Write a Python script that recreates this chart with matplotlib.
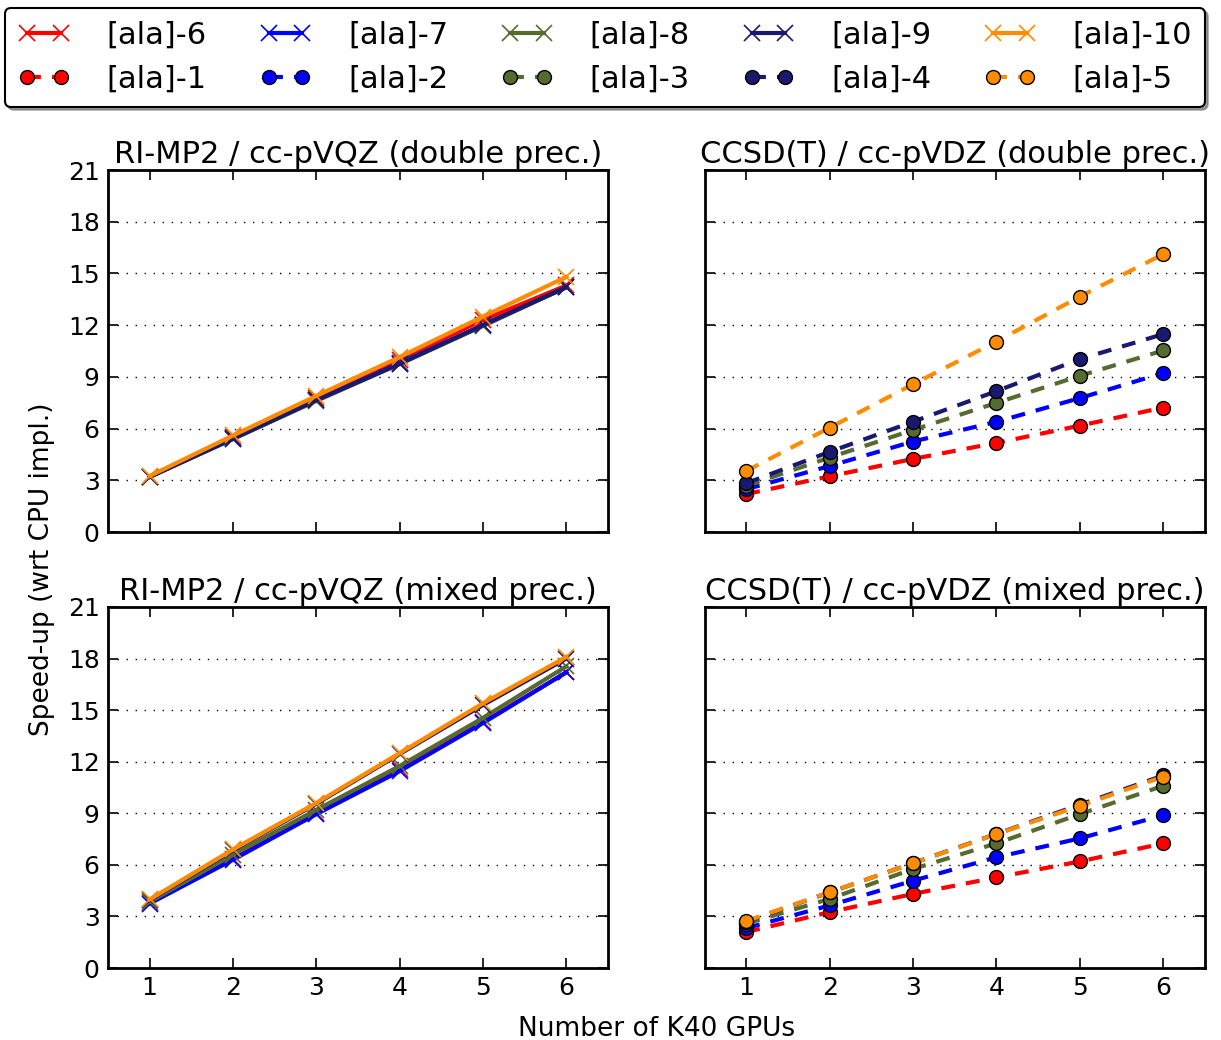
import matplotlib
matplotlib.use('Agg')
import matplotlib.pyplot as plt
import numpy as np

# numero de GPUs
gpus = [1, 2, 3, 4, 5, 6]

# RI-MP2 / cc-pVQZ (dupla precisao) -> [ala]-6 ... [ala]-10
mp2_dp_6 = [3.2, 5.5, 7.8, 10.0, 12.3, 14.3]
mp2_dp_7 = [3.2, 5.45, 7.65, 9.8, 12.0, 14.2]
mp2_dp_8 = [3.2, 5.4, 7.6, 9.75, 11.95, 14.2]
mp2_dp_9 = [3.2, 5.4, 7.65, 9.75, 12.0, 14.2]
mp2_dp_10 = [3.25, 5.6, 7.9, 10.15, 12.5, 14.8]

# RI-MP2 / cc-pVQZ (precisao mista)
mp2_mp_6 = [3.8, 6.35, 9.0, 11.6, 14.3, 17.2]
mp2_mp_7 = [3.75, 6.3, 8.95, 11.45, 14.25, 17.2]
mp2_mp_8 = [3.85, 6.6, 9.2, 11.75, 14.55, 17.55]
mp2_mp_9 = [3.95, 6.85, 9.55, 12.45, 15.3, 18.0]
mp2_mp_10 = [3.99, 6.9, 9.6, 12.5, 15.4, 18.1]

# CCSD(T) / cc-pVDZ (dupla precisao) -> [ala]-1 ... [ala]-5
cc_dp_1 = [2.2, 3.23, 4.24, 5.17, 6.17, 7.22]
cc_dp_2 = [2.48, 3.83, 5.25, 6.39, 7.77, 9.22]
cc_dp_3 = [2.67, 4.32, 5.92, 7.49, 9.06, 10.53]
cc_dp_4 = [2.83, 4.65, 6.4, 8.17, 10.03, 11.48]
cc_dp_5 = [3.54, 6.05, 8.57, 11.05, 13.66, 16.12]

# CCSD(T) / cc-pVDZ (precisao mista)
cc_mp_1 = [2.09, 3.25, 4.31, 5.27, 6.2, 7.25]
cc_mp_2 = [2.32, 3.64, 5.08, 6.44, 7.54, 8.89]
cc_mp_3 = [2.58, 4.02, 5.76, 7.25, 8.95, 10.6]
cc_mp_4 = [2.7, 4.4, 6.1, 7.8, 9.5, 11.2]
cc_mp_5 = [2.73, 4.41, 6.09, 7.79, 9.43, 11.13]

cores = ['#ff0000', '#0000ff', '#556b2f', '#191970', '#ff8c00']

plt.rcParams['font.family'] = 'DejaVu Sans'
plt.rcParams['lines.scale_dashes'] = False
plt.rcParams['xtick.direction'] = 'in'
plt.rcParams['ytick.direction'] = 'in'

fig = plt.figure(figsize=(12.21, 10.40), dpi=100)

esq_l, esq_r = 108 / 1221, 608 / 1221
dir_l, dir_r = 704.5 / 1221, 1205 / 1221
topo_t, topo_b = 1 - 170 / 1040, 1 - 532 / 1040
base_t, base_b = 1 - 607 / 1040, 1 - 968 / 1040

ax_tl = fig.add_axes([esq_l, topo_b, esq_r - esq_l, topo_t - topo_b])
ax_tr = fig.add_axes([dir_l, topo_b, dir_r - dir_l, topo_t - topo_b])
ax_bl = fig.add_axes([esq_l, base_b, esq_r - esq_l, base_t - base_b])
ax_br = fig.add_axes([dir_l, base_b, dir_r - dir_l, base_t - base_b])

dados_mp2 = {
    ax_tl: [mp2_dp_6, mp2_dp_7, mp2_dp_8, mp2_dp_9, mp2_dp_10],
    ax_bl: [mp2_mp_6, mp2_mp_7, mp2_mp_8, mp2_mp_9, mp2_mp_10],
}
dados_cc = {
    ax_tr: [cc_dp_1, cc_dp_2, cc_dp_3, cc_dp_4, cc_dp_5],
    ax_br: [cc_mp_1, cc_mp_2, cc_mp_3, cc_mp_4, cc_mp_5],
}

handles_x = []
handles_o = []
for ax, series in dados_mp2.items():
    handles_x = []
    for i, s in enumerate(series):
        h, = ax.plot(gpus, s, '-', color=cores[i], lw=3, marker='x',
                     ms=12, mew=1.2, mec=cores[i], label='[ala]-%d' % (i + 6))
        handles_x.append(h)

for ax, series in dados_cc.items():
    handles_o = []
    for i, s in enumerate(series):
        h, = ax.plot(gpus, s, '--', dashes=(10, 8), color=cores[i], lw=3,
                     marker='o', ms=10, mec='black', mew=1, mfc=cores[i],
                     label='[ala]-%d' % (i + 1))
        handles_o.append(h)

titulos = {
    ax_tl: 'RI-MP2 / cc-pVQZ (double prec.)',
    ax_tr: 'CCSD(T) / cc-pVDZ (double prec.)',
    ax_bl: 'RI-MP2 / cc-pVQZ (mixed prec.)',
    ax_br: 'CCSD(T) / cc-pVDZ (mixed prec.)',
}

for ax in [ax_tl, ax_tr, ax_bl, ax_br]:
    ax.set_xlim(0.5, 6.5)
    ax.set_ylim(0, 21)
    ax.set_yticks(np.arange(0, 22, 3))
    ax.set_xticks(gpus)
    ax.yaxis.grid(True, linestyle=(0, (1, 5.5)), color='black', lw=1)
    ax.tick_params(labelsize=18, length=7, width=1.2, top=True, right=True,
                   pad=6)
    for sp in ax.spines.values():
        sp.set_linewidth(2)
    ax.set_title(titulos[ax], fontsize=22, pad=5)

ax_tl.tick_params(labelbottom=False)
ax_tr.tick_params(labelbottom=False, labelleft=False)
ax_br.tick_params(labelleft=False)

fig.text(0.034, (topo_t + base_b) / 2, 'Speed-up (wrt CPU impl.)', rotation=90,
         ha='center', va='center', fontsize=19)
fig.text((esq_l + dir_r) / 2, 4 / 1040, 'Number of K40 GPUs', ha='center',
         va='baseline', fontsize=19)

# legenda: linha 1 com [ala]-6..10, linha 2 com [ala]-1..5
ordem = []
for hx, ho in zip(handles_x, handles_o):
    ordem.append(hx)
    ordem.append(ho)
leg = fig.legend(handles=ordem, labels=[h.get_label() for h in ordem],
                 loc='upper left', ncol=5, mode='expand',
                 bbox_to_anchor=(5 / 1221, 1 - 8 / 1040, 1200 / 1221, 0),
                 borderaxespad=0, fontsize=22, handlelength=1.7, numpoints=2,
                 shadow=True, fancybox=True, framealpha=1, labelspacing=0.5,
                 handletextpad=1.2, borderpad=0.42)
leg.get_frame().set_edgecolor('black')
leg.get_frame().set_linewidth(1.5)

fig.savefig('out.png', dpi=100)
